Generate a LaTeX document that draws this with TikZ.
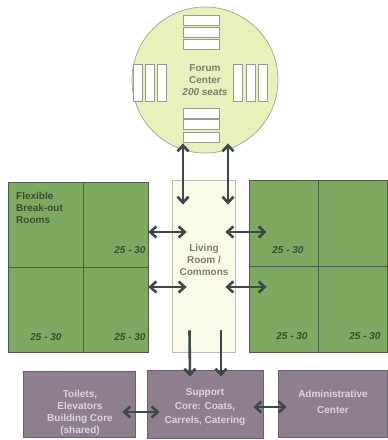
\documentclass[tikz,border=0pt]{standalone}
\usepackage{fontspec}
\setmainfont{Liberation Sans}
\usetikzlibrary{arrows.meta}
\definecolor{forumfill}{HTML}{E8F1BC}
\definecolor{forumline}{HTML}{A8AC98}
\definecolor{seatline}{HTML}{9A9A90}
\definecolor{greenfill}{HTML}{7EA960}
\definecolor{greenline}{HTML}{4C5E46}
\definecolor{livfill}{HTML}{FAFAE8}
\definecolor{livline}{HTML}{BDBDB2}
\definecolor{corefill}{HTML}{8F7E8D}
\definecolor{coreline}{HTML}{6C5E6A}
\definecolor{arrcol}{HTML}{3E4848}
\definecolor{greytxt}{HTML}{7E7D6E}
\definecolor{greentxt}{HTML}{3D4B38}
\definecolor{coretxt}{HTML}{DCD4DA}
\begin{document}
\begin{tikzpicture}[x=1pt, y=1pt,
  txt/.style={font=\bfseries\fontsize{10}{12}\selectfont, align=center, inner sep=0pt},
  seat/.style={draw=seatline, fill=white, line width=0.8pt, inner sep=0pt},
  hseat/.style={seat, minimum width=36, minimum height=10},
  vseat/.style={seat, minimum width=9, minimum height=37},
  cell/.style={draw=greenline, fill=greenfill, line width=0.8pt, inner sep=0pt,
               minimum height=85},
  core/.style={draw=coreline, fill=corefill, line width=0.8pt, inner sep=0pt,
               minimum height=66},
  num/.style={txt, font=\bfseries\itshape\fontsize{10}{12}\selectfont, text=greentxt},
  arr/.style={arrcol, line width=2.6pt, {Straight Barb[length=6pt,width=11pt]}-{Straight Barb[length=6pt,width=11pt]}},
  down/.style={arrcol, line width=2.6pt, -{Straight Barb[length=6pt,width=11pt]}}
]
\useasboundingbox[fill=white] (0,0) rectangle (388,440);
% forum
\node[circle, draw=forumline, fill=forumfill, line width=0.8pt, minimum size=146,
      txt, text=greytxt] (forum) at (205,360) {Forum\\Center\\\itshape 200 seats};
\node[hseat] (st1) at (201,420) {};
\node[hseat] (st2) at (201,408) {};
\node[hseat] (st3) at (201,396) {};
\node[hseat] (sb1) at (201,327) {};
\node[hseat] (sb2) at (201,316) {};
\node[hseat] (sb3) at (201,303) {};
\node[vseat] (sl1) at (137.5,357) {};
\node[vseat] (sl2) at (150,357) {};
\node[vseat] (sl3) at (162,357) {};
\node[vseat] (sr1) at (237.5,357) {};
\node[vseat] (sr2) at (251,357) {};
\node[vseat] (sr3) at (262.5,357) {};
% break-out rooms
\node[cell, minimum width=75] (ltl) at (45.5,215.5) {};
\node[cell, minimum width=65] (ltr) at (115.5,215.5) {};
\node[cell, minimum width=75] (lbl) at (45.5,130.5) {};
\node[cell, minimum width=65] (lbr) at (115.5,130.5) {};
\node[cell, minimum width=69, minimum height=86] (rtl) at (283.5,217) {};
\node[cell, minimum width=69, minimum height=86] (rtr) at (352.5,217) {};
\node[cell, minimum width=69, minimum height=86] (rbl) at (283.5,131) {};
\node[cell, minimum width=69, minimum height=86] (rbr) at (352.5,131) {};
\node[txt, align=left, anchor=north west, text=greentxt] (flex) at (16,248)
  {Flexible\\Break-out\\Rooms};
\node[num] (n1) at (130,190) {25 - 30};
\node[num] (n2) at (46,103) {25 - 30};
\node[num] (n3) at (130,103) {25 - 30};
\node[num] (n4) at (288,190) {25 - 30};
\node[num] (n5) at (292,104) {25 - 30};
\node[num] (n6) at (365,104) {25 - 30};
% commons
\node[draw=livline, fill=livfill, line width=0.8pt, minimum width=63, minimum height=172]
  (liv) at (203.5,174) {};
\node[txt, text=greytxt] (livtxt) at (204,180) {Living\\Room /\\Commons};
% support core
\node[core, minimum width=112] (tlt) at (79,35.5) {};
\node[core, minimum width=116, minimum height=68] (sup) at (205,36) {};
\node[core, minimum width=109, minimum height=67] (adm) at (332.5,36.5) {};
\node[txt, text=coretxt] (tlttxt) at (80,27.5) {Toilets,\\Elevators\\Building Core\\(shared)};
\node[txt, text=coretxt, font=\bfseries\fontsize{10}{14}\selectfont] (suptxt) at (205,32.5)
  {Support\\Core: Coats,\\Carrels, Catering};
\node[txt, text=coretxt, font=\bfseries\fontsize{10}{16}\selectfont] (admtxt) at (333,38.5)
  {Administrative\\Center};
% connections
\draw[arr] ([xshift=-22, yshift=10]forum.south) -- ([xshift=-20.5, yshift=-25]liv.north);
\draw[arr] ([xshift=23, yshift=10]forum.south) -- ([xshift=24.5, yshift=-25]liv.north);
\draw[arr] ([yshift=-7.5]ltr.east) -- ([xshift=15, yshift=34]liv.west);
\draw[arr] ([yshift=22.5]lbr.east) -- ([xshift=15, yshift=-21]liv.west);
\draw[arr] ([xshift=-10, yshift=34]liv.east) -- ([xshift=18, yshift=-9]rtl.west);
\draw[arr] ([xshift=-10, yshift=-21]liv.east) -- ([xshift=18, yshift=22]rbl.west);
\draw[down] ([xshift=-14, yshift=22]liv.south) -- ([xshift=-15, yshift=-7]sup.north);
\draw[down] ([xshift=17.5, yshift=22]liv.south) -- ([xshift=16, yshift=-7]sup.north);
\draw[arr] ([xshift=-13, yshift=-7.5]tlt.east) -- ([xshift=13, yshift=-8]sup.west);
\draw[arr] ([xshift=-10, yshift=-3]sup.east) -- ([xshift=9, yshift=-3.5]adm.west);
\end{tikzpicture}
\end{document}
